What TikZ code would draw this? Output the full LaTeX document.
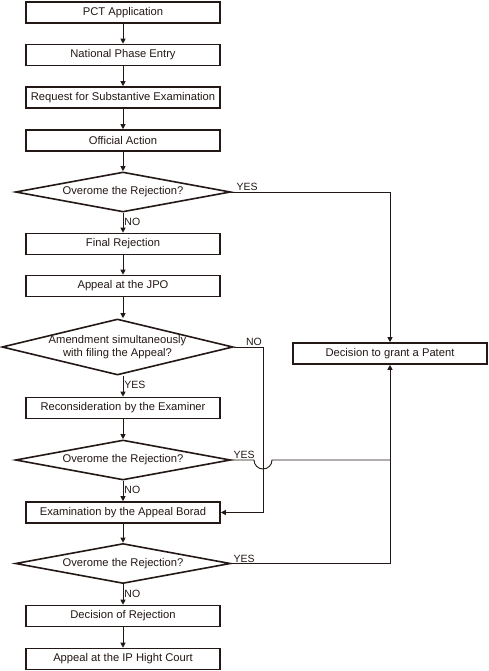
\documentclass[tikz,border=0pt]{standalone}
\usepackage{fontspec}
\setmainfont{Liberation Sans}
\usetikzlibrary{shapes.geometric,arrows.meta,calc}
\definecolor{ink}{HTML}{231815}
\begin{document}
\begin{tikzpicture}[x=1pt,y=-1pt,
  every node/.style={font=\fontsize{11.2}{12.8}\selectfont, text=ink},
  box/.style={draw=ink, line width=1.6pt, minimum width=194pt, minimum height=21pt, inner sep=0pt, fill=white},
  dia/.style={draw=ink, line width=1.6pt, diamond, shape aspect=5.4, inner sep=0pt, minimum width=215pt, minimum height=40pt},
  lbl/.style={font=\fontsize{10.5}{12}\selectfont, inner sep=1pt},
  conn/.style={draw=ink, line width=0.9pt},
  arr/.style={conn, -{Triangle[length=5pt,width=5pt]}}]
\useasboundingbox (0,0) rectangle (489,671);
\node[box] (b1) at (123,12.5) {PCT Application};
\node[box] (b2) at (123,55) {National Phase Entry};
\node[box] (b3) at (123,97.5) {Request for Substantive Examination};
\node[box] (b4) at (123,140.5) {Official Action};
\node[dia] (d1) at (123,192) {Overome the Rejection?};
\node[box] (b5) at (123,244) {Final Rejection};
\node[box] (b6) at (123,286) {Appeal at the JPO};
\node[dia, shape aspect=4.1, minimum width=231pt, minimum height=56pt, inner sep=-3pt, align=center] (d2) at (117.5,347) {Amendment simultaneously\\with filing the Appeal?};
\node[box] (b7) at (123,408) {Reconsideration by the Examiner};
\node[dia] (d3) at (123,460) {Overome the Rejection?};
\node[box] (b8) at (123,512.5) {Examination by the Appeal Borad};
\node[dia] (d4) at (123,563.5) {Overome the Rejection?};
\node[box] (b9) at (123,616) {Decision of Rejection};
\node[box] (b10) at (123,659) {Appeal at the IP Hight Court};
\node[box] (grant) at (390,353.5) {Decision to grant a Patent};
\coordinate (nx) at (263,347);
% main column
\draw[arr] (b1) -- (b2);
\draw[arr] (b2) -- (b3);
\draw[arr] (b3) -- (b4);
\draw[arr] (b4) -- (d1);
\draw[arr] (d1) -- (b5) node[lbl, pos=0.45, anchor=west] {NO};
\draw[arr] (b5) -- (b6);
\draw[arr] (b6.south) -- (b6.south |- d2.north);
\draw[arr] (d2.south -| b7.north) -- (b7.north) node[lbl, pos=0.45, anchor=west] {YES};
\draw[arr] (b7) -- (d3);
\draw[arr] (d3) -- (b8) node[lbl, pos=0.45, anchor=west] {NO};
\draw[arr] (b8) -- (d4);
\draw[arr] (d4) -- (b9) node[lbl, pos=0.45, anchor=west] {NO};
\draw[arr] (b9) -- (b10);
% YES / NO branches
\draw[arr] (d1.east) -| (grant.north);
\node[lbl, anchor=south west] (y1) at ([xshift=4pt]d1.east) {YES};
\draw[arr] (d2.east) -- (nx) |- (b8.east);
\node[lbl, anchor=south west] (n2) at ([xshift=11pt]d2.east) {NO};
\draw[conn] (d3.east) -- ([xshift=-9pt]d3.east -| nx) arc[start angle=180, end angle=360, radius=9pt] -- (d3.east -| grant.south);
\node[lbl, anchor=south west] (y3) at ([xshift=1pt]d3.east) {YES};
\draw[arr] (d4.east) -| (grant.south);
\node[lbl, anchor=south west] (y4) at ([xshift=1pt]d4.east) {YES};
\end{tikzpicture}
\end{document}
